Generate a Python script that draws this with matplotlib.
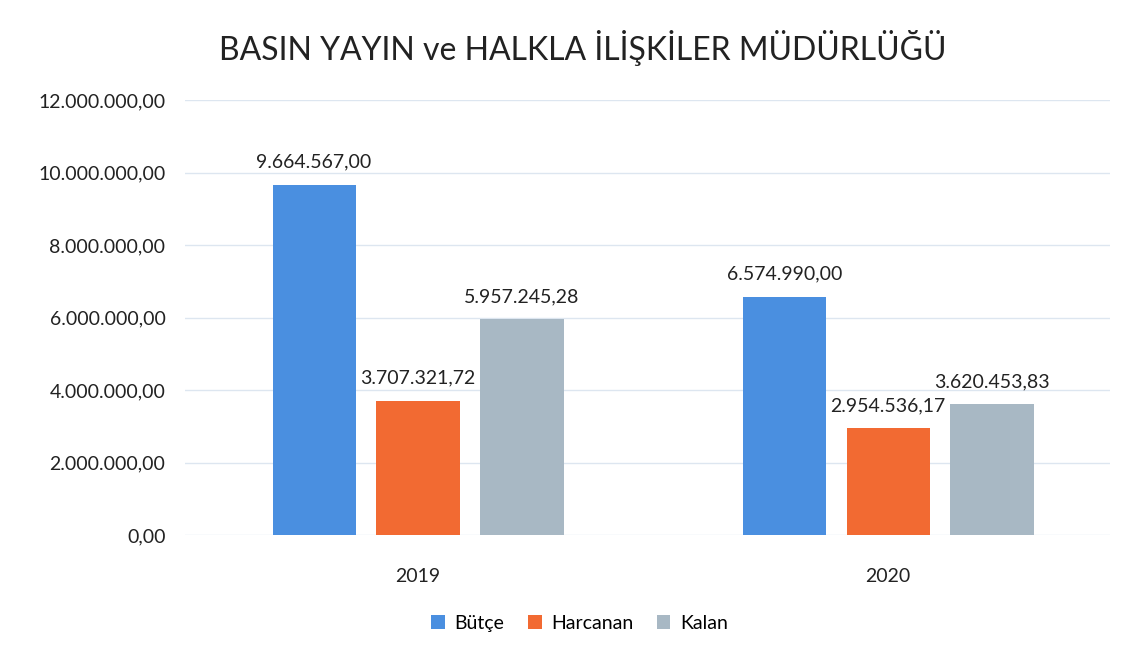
import matplotlib
matplotlib.use("Agg")
import matplotlib.pyplot as plt
import numpy as np

plt.rcParams['font.family'] = ['Lato', 'DejaVu Sans']

years = ['2019', '2020']
series = ['Bütçe', 'Harcanan', 'Kalan']
butce = [9664567.00, 6574990.00]
harcanan = [3707321.72, 2954536.17]
kalan = [5957245.28, 3620453.83]
colors = ['#4a8fe0', '#f26a32', '#a8b8c4']


def tr_fmt(v):
    s = f"{v:,.2f}"
    return s.replace(',', 'X').replace('.', ',').replace('X', '.')


fig = plt.figure(figsize=(11.48, 6.63), dpi=100)
ax = fig.add_axes([0.161, 0.193, 0.806, 0.656])

x = np.arange(len(years))
w = 0.177
step = 0.221
for i, (name, vals) in enumerate(zip(series, [butce, harcanan, kalan])):
    pos = x + (i - 1) * step
    ax.bar(pos, vals, width=w, color=colors[i], label=name, zorder=2)
    for p, v in zip(pos, vals):
        ax.annotate(tr_fmt(v), (p, v), xytext=(0, 10), textcoords='offset points',
                    ha='center', va='bottom', fontsize=14, color='#222222', zorder=3)

ax.set_xlim(-0.496, 1.472)
ax.set_ylim(0, 12000000)
ax.set_yticks(np.arange(0, 12000001, 2000000))
ax.yaxis.set_major_formatter(matplotlib.ticker.FuncFormatter(lambda v, _: tr_fmt(v)))
ax.set_xticks(x)
ax.set_xticklabels(years)
ax.tick_params(axis='both', length=0, labelsize=14, colors='#222222', pad=14)
ax.tick_params(axis='x', pad=24)
ax.grid(axis='y', color='#dde6f0', linewidth=1, zorder=0)
for s in ax.spines.values():
    s.set_visible(False)

fig.suptitle('BASIN YAYIN ve HALKLA İLİŞKİLER MÜDÜRLÜĞÜ', x=0.508, y=0.955,
             fontsize=23, color='#222222')
fig.legend(loc='center', bbox_to_anchor=(0.505, 0.06), ncol=3, frameon=False,
           fontsize=14, handlelength=0.7, handleheight=0.7, columnspacing=1.2,
           handletextpad=0.5)

fig.savefig('out.png', dpi=100)
